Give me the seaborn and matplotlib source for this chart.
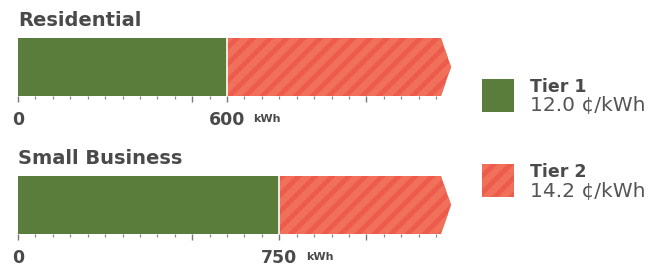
import numpy as np
import pandas as pd
import seaborn as sns
import matplotlib.pyplot as plt
from matplotlib.patches import Polygon, Rectangle

# data
segments = ["Residential", "Small Business"]
tier1_limit = [600, 750]          # kWh billed at Tier 1
bar_end = [1215, 1215]            # drawn extent of the open-ended Tier 2 bar
tiers = ["Tier 1", "Tier 2"]
rates = ["12.0 \u00a2/kWh", "14.2 \u00a2/kWh"]

green = "#5a7d3c"
red = "#ec5b4b"
stripe = "#f1705a"
text_col = "#4a4a4a"

sns.set_theme(style="white")
plt.rcParams["font.family"] = ["DejaVu Sans"]
plt.rcParams["hatch.linewidth"] = 5.0

fig = plt.figure(figsize=(6.54, 2.7), dpi=100)

x_left = 18 / 654
x_width = 439 / 654
x_max = 1260
bar_h = 0.8

tops = [38, 176]
for i, seg in enumerate(segments):
    top = tops[i]
    ax = fig.add_axes([x_left, 1 - (top + 58) / 270, x_width, 58 / 270])
    df = pd.DataFrame({"segment": [seg], "tier1": [tier1_limit[i]], "end": [bar_end[i]]})

    # total bar (Tier 2 colour), then Tier 1 on top
    sns.barplot(data=df, x="end", y="segment", orient="h", color=red,
                edgecolor=stripe, linewidth=0, hatch="//", width=bar_h,
                saturation=1, ax=ax)
    sns.barplot(data=df, x="tier1", y="segment", orient="h", color=green,
                linewidth=0, width=bar_h, saturation=1, ax=ax)

    # arrow tip at the open end of the Tier 2 bar
    end = bar_end[i]
    tip = Polygon([[end - 1, -bar_h / 2], [end + 28, 0], [end - 1, bar_h / 2]],
                  closed=True, facecolor=red, edgecolor=stripe, linewidth=0,
                  hatch="//")
    ax.add_patch(tip)
    ax.vlines(tier1_limit[i], -bar_h / 2, bar_h / 2, color="white", lw=1.2)

    ax.set_xlim(0, x_max)
    ax.set_ylim(bar_h / 2, -bar_h / 2)
    ax.set_yticks([])
    ax.set_ylabel("")
    ax.set_xlabel("")
    for s in ["top", "right", "left", "bottom"]:
        ax.spines[s].set_visible(False)

    major = [0, 500, 1000, tier1_limit[i]]
    labels = ["0", "", "", str(tier1_limit[i])]
    ax.set_xticks(major)
    ax.set_xticklabels(labels, fontsize=12.5, fontweight="bold", color=text_col)
    ax.set_xticks(np.arange(0, 1201, 50), minor=True)
    ax.tick_params(axis="x", which="major", bottom=True, length=4, width=1,
                   color="#777777", pad=7)
    ax.tick_params(axis="x", which="minor", bottom=True, length=2.5, width=0.9,
                   color="#888888")
    ax.annotate("kWh", xy=(tier1_limit[i], 0), xycoords=("data", "axes fraction"),
                xytext=(19, -16.5), textcoords="offset points",
                fontsize=8, fontweight="bold", color=text_col, va="center")

    fig.text(x_left, 1 - (top - 18) / 270, seg, fontsize=14, fontweight="bold",
             color=text_col, va="center", ha="left")

# legend drawn by hand
leg_y = [79, 164]
for i, t in enumerate(tiers):
    y0 = leg_y[i]
    sq = Rectangle((482 / 654, 1 - (y0 + 33) / 270), 32 / 654, 33 / 270,
                   transform=fig.transFigure, facecolor=[green, red][i],
                   edgecolor=stripe if i == 1 else green, linewidth=0,
                   hatch="//" if i == 1 else None)
    fig.patches.append(sq)
    fig.text(530 / 654, 1 - (y0 + 8) / 270, t, fontsize=12.5, fontweight="bold",
             color=text_col, va="center")
    fig.text(530 / 654, 1 - (y0 + 27) / 270, rates[i], fontsize=14.5,
             color="#555555", va="center")

fig.savefig("out.png", dpi=100)
